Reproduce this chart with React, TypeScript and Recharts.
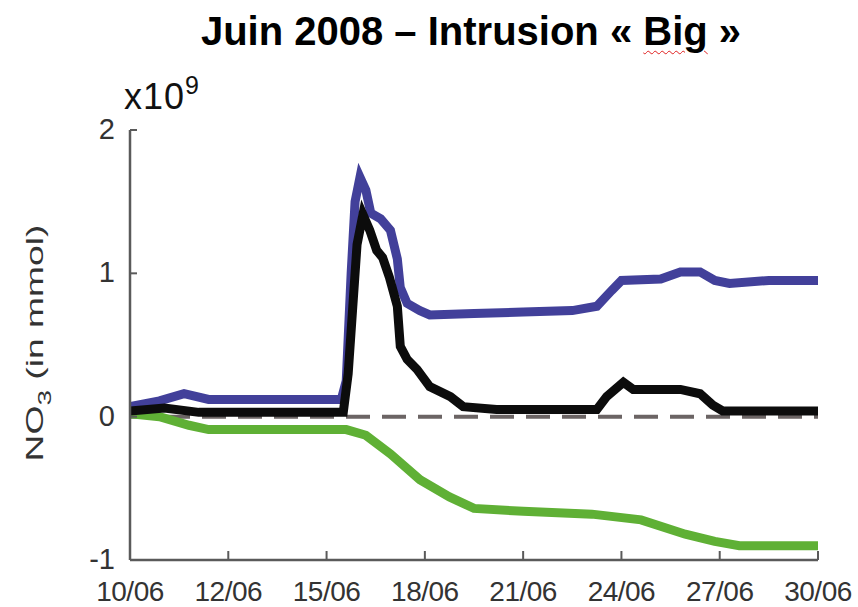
import React from "react";
import { LineChart, Line, XAxis, YAxis } from "recharts";

// x axis: evenly spaced date ticks (0 = 10/06 ... 7 = 30/06)
const dateTicks = [0, 1, 2, 3, 4, 5, 6, 7];
const dateLabels = ["10/06", "12/06", "15/06", "18/06", "21/06", "24/06", "27/06", "30/06"];
const yTicks = [-1, 0, 1, 2];

// blue curve (x10^9 mmol)
const blueT = [0, 0.3, 0.55, 0.8, 2.15, 2.2, 2.25, 2.29, 2.34, 2.4, 2.45, 2.55, 2.65, 2.72, 2.75, 2.82, 2.95, 3.05, 3.5, 4.0, 4.5, 4.75, 4.9, 5.0, 5.4, 5.6, 5.8, 5.95, 6.1, 6.5, 7];
const blueV = [0.07, 0.11, 0.16, 0.12, 0.12, 0.25, 1.0, 1.5, 1.67, 1.58, 1.42, 1.38, 1.3, 1.1, 0.9, 0.79, 0.74, 0.71, 0.72, 0.73, 0.74, 0.77, 0.88, 0.95, 0.96, 1.01, 1.01, 0.95, 0.93, 0.95, 0.95];

// black curve
const blackT = [0, 0.35, 0.7, 2.17, 2.22, 2.31, 2.37, 2.44, 2.51, 2.57, 2.64, 2.72, 2.75, 2.82, 2.92, 3.05, 3.26, 3.39, 3.73, 4.75, 4.85, 5.02, 5.12, 5.6, 5.8, 5.93, 6.03, 7];
const blackV = [0.04, 0.06, 0.03, 0.03, 0.3, 1.2, 1.41, 1.3, 1.16, 1.11, 0.97, 0.77, 0.49, 0.4, 0.33, 0.21, 0.14, 0.07, 0.05, 0.05, 0.14, 0.24, 0.19, 0.19, 0.16, 0.08, 0.04, 0.04];

// green curve
const greenT = [0, 0.3, 0.6, 0.8, 2.2, 2.4, 2.65, 2.95, 3.25, 3.5, 4.0, 4.7, 5.2, 5.65, 5.95, 6.2, 7];
const greenV = [0.02, 0.0, -0.06, -0.09, -0.09, -0.13, -0.26, -0.44, -0.56, -0.64, -0.66, -0.68, -0.72, -0.82, -0.87, -0.9, -0.9];

// zero reference (dashed)
const zeroT = [0, 7];
const zeroV = [0, 0];

const toPoints = (t: number[], v: number[]) => t.map((x, i) => ({ t: x, v: v[i] }));

const blue = toPoints(blueT, blueV);
const black = toPoints(blackT, blackV);
const green = toPoints(greenT, greenV);
const zero = toPoints(zeroT, zeroV);

const FONT = "'Liberation Sans', Arial, sans-serif";
const AXIS = "#5a5a5a";
const TEXT = "#333";

const BottomTick = ({ x, y, payload }: any) => (
  <g>
    <line x1={x} x2={x} y1={y} y2={y - 9} stroke={AXIS} strokeWidth={2} />
    <text x={x} y={y + 41} textAnchor="middle" fontSize={28} fill={TEXT} fontFamily={FONT} letterSpacing={-0.5}>
      {dateLabels[payload.value]}
    </text>
  </g>
);

const TopTick = ({ x, y }: any) => (
  <line x1={x} x2={x} y1={y} y2={y + 4} stroke={AXIS} strokeWidth={2} />
);

const LeftTick = ({ x, y, payload }: any) => (
  <g>
    <line x1={x} x2={x + 7} y1={y} y2={y} stroke={AXIS} strokeWidth={2} />
    <text x={x - 15} y={y + 9} textAnchor="end" fontSize={29} fill={TEXT} fontFamily={FONT}>
      {payload.value}
    </text>
  </g>
);

const YLabel = () => (
  <text
    transform="translate(43,343) rotate(-90)"
    textAnchor="middle"
    fontSize={24}
    fill={TEXT}
    fontFamily={FONT}
    textLength={237}
    lengthAdjust="spacingAndGlyphs"
  >
    NO
    <tspan dy={8} fontSize={18}>3</tspan>
    <tspan dy={-8}> (in mmol)</tspan>
  </text>
);

export default function App() {
  return (
    <div style={{ position: "absolute", left: 0, top: 0, width: 858, height: 607, background: "#fff", overflow: "hidden" }}>
      <div
        style={{
          position: "absolute",
          left: 471,
          top: 11,
          transform: "translateX(-50%)",
          whiteSpace: "nowrap",
          fontFamily: FONT,
          fontWeight: "bold",
          fontSize: 40,
          lineHeight: "40px",
          color: "#000",
        }}
      >
        Juin 2008 – Intrusion «{" "}
        <span style={{ textDecoration: "underline wavy #e02020", textDecorationThickness: 1, textUnderlineOffset: 5 }}>Big</span> »
      </div>
      <div
        style={{
          position: "absolute",
          left: 124,
          top: 79,
          fontFamily: FONT,
          fontSize: 36,
          lineHeight: "36px",
          color: "#111",
          letterSpacing: 1,
          whiteSpace: "nowrap",
        }}
      >
        x10<span style={{ fontSize: 25, position: "relative", top: -15 }}>9</span>
      </div>
      <LineChart width={858} height={607} margin={{ top: 130, right: 40, bottom: 0, left: 0 }}>
        <XAxis
          xAxisId="main"
          dataKey="t"
          type="number"
          domain={[0, 7]}
          ticks={dateTicks}
          interval={0}
          orientation="bottom"
          height={47}
          tickSize={0}
          tickMargin={0}
          tickLine={false}
          tick={<BottomTick />}
          axisLine={{ stroke: AXIS, strokeWidth: 2.5 }}
          allowDataOverflow
        />
        <XAxis
          xAxisId="top"
          dataKey="t"
          type="number"
          domain={[0, 7]}
          ticks={dateTicks}
          interval={0}
          orientation="top"
          height={0}
          tickSize={0}
          tickMargin={0}
          tickLine={false}
          tick={<TopTick />}
          axisLine={{ stroke: AXIS, strokeWidth: 2.5 }}
        />
        <YAxis
          yAxisId="main"
          type="number"
          domain={[-1, 2]}
          ticks={yTicks}
          interval={0}
          width={130}
          tickSize={0}
          tickMargin={0}
          tickLine={false}
          tick={<LeftTick />}
          axisLine={{ stroke: AXIS, strokeWidth: 2.5 }}
          label={<YLabel />}
          allowDataOverflow
        />
        <YAxis
          yAxisId="right"
          orientation="right"
          type="number"
          domain={[-1, 2]}
          ticks={yTicks}
          width={0}
          tick={false}
          tickLine={false}
          axisLine={{ stroke: AXIS, strokeWidth: 2.5 }}
        />
        <Line xAxisId="main" yAxisId="main" data={zero} dataKey="v" stroke="#6b6464" strokeWidth={4} strokeDasharray="24 12" dot={false} isAnimationActive={false} />
        <Line xAxisId="main" yAxisId="main" data={green} dataKey="v" stroke="#5fb035" strokeWidth={9} dot={false} isAnimationActive={false} />
        <Line xAxisId="main" yAxisId="main" data={blue} dataKey="v" stroke="#42409a" strokeWidth={9} dot={false} isAnimationActive={false} />
        <Line xAxisId="main" yAxisId="main" data={black} dataKey="v" stroke="#0c0c0c" strokeWidth={9} dot={false} isAnimationActive={false} />
      </LineChart>
    </div>
  );
}
